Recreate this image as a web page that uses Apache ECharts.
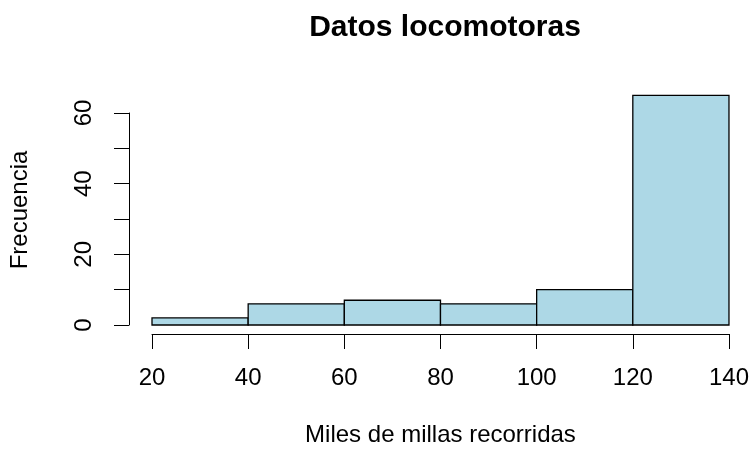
<!DOCTYPE html>
<html><head><meta charset="utf-8">
<script src="https://cdn.jsdelivr.net/npm/echarts@6/dist/echarts.min.js"></script>
<style>html,body{margin:0;padding:0;background:#fff}#c{width:752px;height:455px}</style>
</head><body><div id="c"></div>
<script>
const binStarts = [20, 40, 60, 80, 100, 120];
const binEnds = [40, 60, 80, 100, 120, 140];
const counts = [2, 6, 7, 6, 10, 65];
const xTicks = [20, 40, 60, 80, 100, 120, 140];
const yLabels = [0, 20, 40, 60];

const font = 'Liberation Sans, Arial, Helvetica, sans-serif';
const chart = echarts.init(document.getElementById('c'), null, {renderer: 'canvas'});
const data = binStarts.map((s, i) => [s, binEnds[i], counts[i]]);
chart.setOption({
  backgroundColor: '#fff',
  animation: false,
  title: {
    text: 'Datos locomotoras', left: 440, top: 8, textAlign: 'center',
    textStyle: {fontFamily: font, fontWeight: 'bold', fontSize: 30, color: '#000'}
  },
  grid: {left: 151, right: 23, top: 113, bottom: 130},
  xAxis: {
    type: 'value', min: 20, max: 140, interval: 20,
    offset: 9,
    name: 'Miles de millas recorridas', nameLocation: 'middle', nameGap: 89,
    nameTextStyle: {fontFamily: font, fontSize: 24, color: '#000', verticalAlign: 'top'},
    axisLine: {show: true, onZero: false, lineStyle: {color: '#000', width: 1}},
    axisTick: {show: true, length: 15, lineStyle: {color: '#000'}},
    axisLabel: {fontFamily: font, fontSize: 24, color: '#000', margin: 32, showMinLabel: true, showMaxLabel: true, hideOverlap: false},
    splitLine: {show: false}
  },
  yAxis: {
    type: 'value', min: 0, max: 60, interval: 10,
    offset: 23,
    name: 'Frecuencia', nameLocation: 'middle', nameGap: 97,
    nameTextStyle: {fontFamily: font, fontSize: 24, color: '#000', padding: [0, 0, 0, 18]},
    axisLine: {show: true, onZero: false, lineStyle: {color: '#000', width: 1}},
    axisTick: {show: true, length: 15, lineStyle: {color: '#000'}},
    axisLabel: {
      fontFamily: font, fontSize: 24, color: '#000', rotate: 90, margin: 33,
      formatter: v => (yLabels.indexOf(v) >= 0 ? String(v) : '')
    },
    splitLine: {show: false}
  },
  series: [{
    type: 'custom',
    clip: false,
    data: data,
    encode: {x: [0, 1], y: 2},
    renderItem: function (params, api) {
      const p0 = api.coord([api.value(0), 0]);
      const p1 = api.coord([api.value(1), api.value(2)]);
      return {
        type: 'rect',
        shape: {x: p0[0], y: p1[1], width: p1[0] - p0[0], height: p0[1] - p1[1]},
        style: {fill: '#ADD8E6', stroke: '#000', lineWidth: 1.3}
      };
    }
  }]
});
</script></body></html>
